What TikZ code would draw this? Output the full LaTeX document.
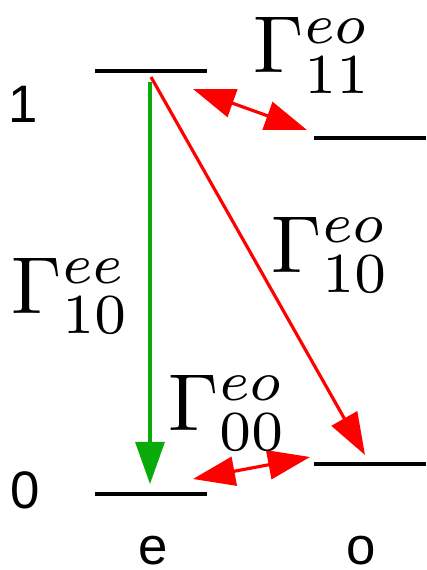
\documentclass[tikz,border=0pt]{standalone}
\usepackage[no-math]{fontspec}
\newfontfamily\levelfont{Liberation Sans}
\usetikzlibrary{arrows.meta}
\definecolor{DecayGreen}{RGB}{10,170,10}
\definecolor{MixRed}{RGB}{255,0,0}
\tikzset{
  levelline/.style={draw=black, line width=0.9pt},
  bigtip/.tip={Triangle[length=4.2mm,width=2.9mm]},
  decayarrow/.style={-bigtip, line width=0.9pt},
  mixarrow/.style={bigtip-bigtip, line width=0.9pt, draw=MixRed, fill=MixRed},
  ratelabel/.style={inner sep=0pt, anchor=base west, scale=2.3},
  statelabel/.style={inner sep=0pt, anchor=base,
    font=\levelfont\fontsize{15}{18}\selectfont}
}

\begin{document}
\begin{tikzpicture}[x=0.01cm, y=-0.01cm]
  \useasboundingbox (0,0) rectangle (426,570);
  % energy levels
  \coordinate (e1w) at (95,71);   \coordinate (e1e) at (207,71);
  \coordinate (o1w) at (314,138); \coordinate (o1e) at (426,138);
  \coordinate (e0w) at (95,494);  \coordinate (e0e) at (207,494);
  \coordinate (o0w) at (314,464); \coordinate (o0e) at (426,464);
  \draw[levelline] (e1w) -- (e1e);
  \draw[levelline] (o1w) -- (o1e);
  \draw[levelline] (e0w) -- (e0e);
  \draw[levelline] (o0w) -- (o0e);
  % level and parity labels
  \node[statelabel] (one)  at (23,123) {1};
  \node[statelabel] (zero) at (25,508) {0};
  \node[statelabel] (even) at (153,564) {e};
  \node[statelabel] (odd)  at (361,564) {o};
  % transitions
  \coordinate (gtop) at (150,82);  \coordinate (gbot) at (150,484);
  \coordinate (rtop) at (151,77);  \coordinate (rbot) at (365,455);
  \coordinate (mixa) at (193,89);  \coordinate (mixb) at (307,130);
  \coordinate (mixc) at (193,479); \coordinate (mixd) at (310,457);
  \draw[decayarrow, draw=DecayGreen, fill=DecayGreen] (gtop) -- (gbot);
  \draw[decayarrow, draw=MixRed, fill=MixRed] (rtop) -- (rbot);
  \draw[mixarrow] (mixa) -- (mixb);
  \draw[mixarrow] (mixc) -- (mixd);
  % rates
  \node[ratelabel] (g11)   at (252,73)  {$\Gamma^{eo}_{11}$};
  \node[ratelabel] (g10ee) at (10,313)  {$\Gamma^{ee}_{10}$};
  \node[ratelabel] (g10eo) at (270,272) {$\Gamma^{eo}_{10}$};
  \node[ratelabel] (g00)   at (167,430) {$\Gamma^{eo}_{00}$};
\end{tikzpicture}
\end{document}
